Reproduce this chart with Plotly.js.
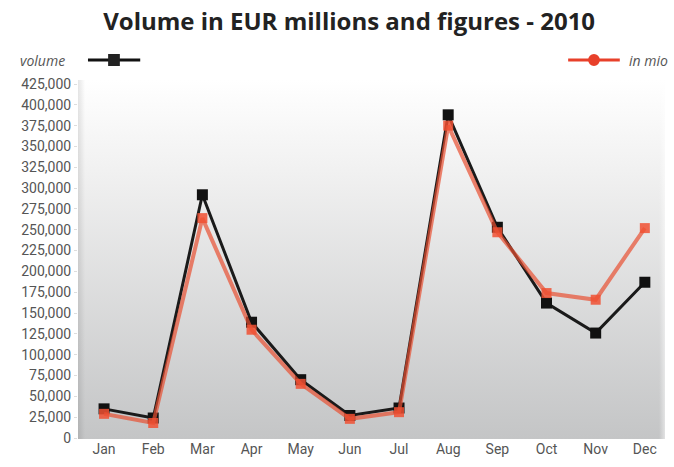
<!DOCTYPE html>
<html>
<head>
<meta charset="utf-8">
<script src="https://cdn.plot.ly/plotly-3.0.1.min.js"></script>
<style>html,body{margin:0;padding:0;background:#fff;}#chart{width:674px;height:467px;}</style>
</head>
<body>
<div id="chart"></div>
<script>
const months = ["Jan","Feb","Mar","Apr","May","Jun","Jul","Aug","Sep","Oct","Nov","Dec"];
const volume = [35000, 24000, 292000, 139000, 70000, 27000, 36000, 388000, 253000, 162000, 126000, 187000];
const inMio = [29000, 18000, 264000, 130000, 65000, 23000, 31000, 375000, 247000, 174000, 166000, 252000];
const yTicks = [0,25000,50000,75000,100000,125000,150000,175000,200000,225000,250000,275000,300000,325000,350000,375000,400000,425000];

const bgSvg = '<svg xmlns="http://www.w3.org/2000/svg" width="100" height="100" preserveAspectRatio="none">' +
  '<defs><linearGradient id="g" x1="0" y1="0" x2="0" y2="1">' +
  '<stop offset="0" stop-color="#ffffff"/><stop offset="0.25" stop-color="#f1f1f1"/>' +
  '<stop offset="1" stop-color="#c4c5c6"/></linearGradient>' +
  '<linearGradient id="h" x1="0" y1="0" x2="1" y2="0">' +
  '<stop offset="0" stop-color="#000" stop-opacity="0.10"/><stop offset="0.012" stop-color="#000" stop-opacity="0"/>' +
  '<stop offset="0.99" stop-color="#fff" stop-opacity="0"/><stop offset="1" stop-color="#fff" stop-opacity="0.5"/></linearGradient></defs>' +
  '<rect width="100" height="100" fill="url(#g)"/><rect width="100" height="100" fill="url(#h)"/></svg>';
const bgUri = 'data:image/svg+xml;base64,' + btoa(bgSvg);

const traces = [
  {
    x: months, y: volume, type: 'scatter', mode: 'lines+markers', name: 'volume',
    line: {color: '#1a1a1a', width: 3},
    marker: {symbol: 'square', size: 11, color: '#111'}
  },
  {
    x: months, y: inMio, type: 'scatter', mode: 'lines+markers', name: 'in mio',
    line: {color: 'rgba(232,80,50,0.7)', width: 4},
    marker: {symbol: 'square', size: 10, color: 'rgba(240,80,50,0.85)'}
  }
];

const LY = 1.0557;
const layout = {
  width: 674, height: 467,
  margin: {l: 78, r: 9, t: 80, b: 28},
  paper_bgcolor: '#ffffff',
  plot_bgcolor: 'rgba(0,0,0,0)',
  showlegend: false,
  title: {
    text: '<b>Volume in EUR millions and figures - 2010</b>',
    font: {family: 'Open Sans', size: 24, color: '#222'},
    x: 0.518, xanchor: 'center', y: 0.953, yanchor: 'middle'
  },
  xaxis: {
    type: 'category', range: [-0.53, 11.41],
    showgrid: false, zeroline: false, showline: false,
    ticks: '', tickfont: {family: 'Roboto', size: 14, color: '#555'}
  },
  yaxis: {
    range: [-1200, 429800], tickvals: yTicks, tickformat: ',d',
    showgrid: false, zeroline: false, showline: false,
    ticks: 'outside', ticklen: 3, tickcolor: '#ddd',
    tickfont: {family: 'Roboto', size: 14, color: '#555'}
  },
  images: [{
    source: bgUri, xref: 'paper', yref: 'paper', x: 0, y: 1, sizex: 1, sizey: 1,
    sizing: 'stretch', layer: 'below', xanchor: 'left', yanchor: 'top'
  }],
  annotations: [
    {text: '<i>volume</i>', xref: 'paper', yref: 'paper', x: -0.103, y: LY, xanchor: 'left', yanchor: 'middle',
     showarrow: false, font: {family: 'Open Sans', size: 14, color: '#555'}},
    {text: '<i>in mio</i>', xref: 'paper', yref: 'paper', x: 1.0085, y: LY, xanchor: 'right', yanchor: 'middle',
     showarrow: false, font: {family: 'Open Sans', size: 14, color: '#555'}}
  ],
  shapes: [
    {type: 'line', xref: 'paper', yref: 'paper', x0: 0.017, x1: 0.106, y0: LY, y1: LY, line: {color: '#111', width: 3}},
    {type: 'rect', xref: 'paper', yref: 'paper', x0: 0.0513, x1: 0.0713, y0: LY - 0.0167, y1: LY + 0.0167, fillcolor: '#222', line: {width: 0}},
    {type: 'line', xref: 'paper', yref: 'paper', x0: 0.835, x1: 0.923, y0: LY, y1: LY, line: {color: '#e8402a', width: 3}},
    {type: 'circle', xref: 'paper', yref: 'paper', x0: 0.869, x1: 0.889, y0: LY - 0.0167, y1: LY + 0.0167, fillcolor: '#e8402a', line: {width: 0}}
  ]
};

Plotly.newPlot('chart', traces, layout, {displayModeBar: false, staticPlot: true});
</script>
</body>
</html>
